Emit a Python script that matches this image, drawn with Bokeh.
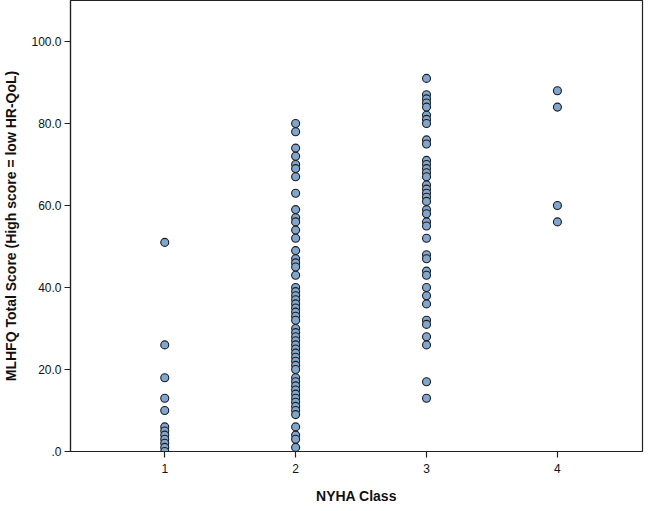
from bokeh.plotting import figure
from bokeh.models import Range1d, FixedTicker
from bokeh.embed import file_html
from bokeh.resources import INLINE

# NYHA class 1..4 and MLHFQ scores
class1 = [51, 26, 18, 13, 10, 6, 5, 4, 3, 2, 1, 0]
class2 = [80, 78, 74, 72, 70, 69, 67, 63, 59, 57, 56, 54, 52, 49, 47, 46, 45, 43,
          40, 39, 38, 37, 36, 35, 34, 33, 32, 30, 29, 28, 27, 26, 25, 24, 23, 22,
          21, 20, 18, 17, 16, 15, 14, 13, 12, 11, 10, 9, 6, 4, 3, 1]
class3 = [91, 87, 86, 85, 84, 82, 81, 80, 76, 75, 71, 70, 69, 68, 67, 65, 64, 63,
          62, 61, 59, 58, 56, 55, 52, 48, 47, 44, 43, 40, 38, 36, 32, 31, 28, 26, 17, 13]
class4 = [88, 84, 60, 56]

x_ticks = [1, 2, 3, 4]
y_ticks = [0, 20, 40, 60, 80, 100]
y_tick_labels = [".0", "20.0", "40.0", "60.0", "80.0", "100.0"]

xs, ys = [], []
for cls, vals in zip(x_ticks, [class1, class2, class3, class4]):
    xs += [cls] * len(vals)
    ys += vals

p = figure(frame_width=572, frame_height=451, output_backend="svg", toolbar_location=None,
           x_range=Range1d(0.28, 4.65), y_range=Range1d(0, 110),
           min_border_left=0, min_border_top=0, min_border_right=4, min_border_bottom=0)

p.scatter(xs, ys, size=8, fill_color="#7ea6d1", line_color="#1c1c1c", line_width=1.1)

p.xgrid.visible = False
p.ygrid.visible = False
p.outline_line_color = "#222222"
p.outline_line_width = 1.2

font = "Liberation Sans"
for ax in (p.xaxis[0], p.yaxis[0]):
    ax.axis_line_color = "#222222"
    ax.axis_line_width = 1.2
    ax.major_tick_line_color = "#222222"
    ax.major_tick_line_width = 1.2
    ax.major_tick_out = 6
    ax.major_tick_in = 0
    ax.minor_tick_line_color = None
    ax.major_label_text_font = font
    ax.major_label_text_font_size = "12px"
    ax.major_label_text_color = "#111111"
    ax.axis_label_text_font = font
    ax.axis_label_text_font_style = "bold"
    ax.axis_label_text_font_size = "14px"
    ax.axis_label_text_color = "#111111"

p.xaxis.ticker = FixedTicker(ticks=x_ticks)
p.yaxis.ticker = FixedTicker(ticks=y_ticks)
p.yaxis.major_label_overrides = {t: l for t, l in zip(y_ticks, y_tick_labels)}
p.xaxis.axis_label = "NYHA Class"
p.yaxis.axis_label = "MLHFQ Total Score (High score = low HR-QoL)"
p.xaxis.major_label_standoff = 6
p.yaxis.major_label_standoff = 3
p.xaxis.axis_label_standoff = 12
p.yaxis.axis_label_standoff = 9

open("out.html", "w").write(file_html(p, INLINE))
